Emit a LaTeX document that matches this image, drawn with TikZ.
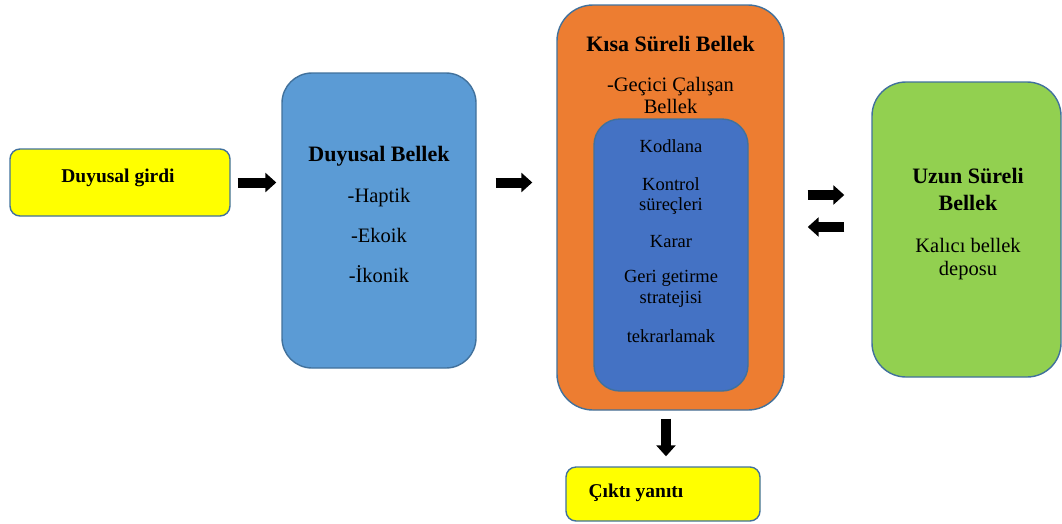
\documentclass[tikz,border=0pt]{standalone}
\usepackage{fontspec}
\setmainfont{Liberation Serif}
\usetikzlibrary{arrows.meta}
\definecolor{edge}{RGB}{65,113,156}
\definecolor{ylw}{RGB}{255,255,0}
\definecolor{sblue}{RGB}{91,155,213}
\definecolor{sorange}{RGB}{237,125,49}
\definecolor{iblue}{RGB}{68,114,196}
\definecolor{lgreen}{RGB}{146,208,80}
\tikzset{
  box/.style={draw=edge, line width=1.4pt, rounded corners=#1, inner sep=0pt},
  box/.default=30pt,
  title/.style={anchor=base, font=\bfseries\fontsize{22}{26}\selectfont},
  body/.style={anchor=base, font=\fontsize{20.5}{24}\selectfont},
  small/.style={anchor=base, font=\fontsize{18.5}{22}\selectfont},
  fat/.style={line width=10pt, -{Triangle[width=19pt,length=11pt]}}
}
\begin{document}
\begin{tikzpicture}[x=1pt,y=-1pt]
    \useasboundingbox (0,0) rectangle (1062,523);
    % boxes
    \node[box=10pt, fill=ylw, minimum width=220pt, minimum height=67pt] (girdi) at (120,182.5) {};
    \node[box, fill=sblue, minimum width=194pt, minimum height=295pt] (duyusal) at (379,220.5) {};
    \node[box=36pt, fill=sorange, minimum width=227pt, minimum height=405pt] (ksb) at (670.5,207.5) {};
    \node[box=26pt, fill=iblue, minimum width=154pt, minimum height=272pt] (ic) at (671,255) {};
    \node[box=34pt, fill=lgreen, minimum width=189pt, minimum height=295pt] (usb) at (966.5,229.5) {};
    \node[box=10pt, fill=ylw, minimum width=194pt, minimum height=54pt] (cikti) at (663,494) {};
    % texts
    \node[title, font=\bfseries\fontsize{19.5}{23}\selectfont] (girdiT) at (118,182) {Duyusal girdi};
    \node[title] (duyusalT) at (379,161) {Duyusal Bellek};
    \foreach \t/\y/\n in {-Haptik/202/hap, -Ekoik/242/eko, -İkonik/282/iko} {
        \node[body] (\n) at (379,\y) {\t};
    }
    \node[title] (ksbT) at (670.5,51) {Kısa Süreli Bellek};
    \node[body] (gec1) at (670.5,91) {-Geçici Çalışan};
    \node[body] (gec2) at (670.5,113) {Bellek};
    \foreach \t/\y/\n in {Kodlana/152/kod, Kontrol/190/kon1, süreçleri/210/kon2, Karar/247/kar,
                          Geri getirme/282/ger1, stratejisi/303/ger2, tekrarlamak/342/tek} {
        \node[small] (\n) at (671,\y) {\t};
    }
    \node[title] (usbT1) at (968,183) {Uzun Süreli};
    \node[title] (usbT2) at (968,210) {Bellek};
    \node[body] (kal1) at (968,252) {Kalıcı bellek};
    \node[body] (kal2) at (968,275) {deposu};
    \node[title, anchor=base west, font=\bfseries\fontsize{19.5}{23}\selectfont] (ciktiT) at (585,497) {Çıktı yanıtı};
    % arrows
    \draw[fat, shorten <=7pt, shorten >=5pt] (girdi.east) -- (girdi.east -| duyusal.west);
    \draw[fat, shorten <=19pt, shorten >=24pt] (duyusal.east |- girdi.east) -- (ksb.west |- girdi.east);
    \coordinate (r1) at ([yshift=34.5pt]usb.west);
    \coordinate (r2) at ([yshift=2.5pt]usb.west);
    \draw[fat, shorten <=23pt, shorten >=27pt] (ksb.east |- r1) -- (r1);
    \draw[fat, shorten <=27pt, shorten >=23pt] (r2) -- (ksb.east |- r2);
    \coordinate (d1) at ([xshift=-4.5pt]ksb.south);
    \draw[fat, shorten <=8pt, shorten >=10pt] (d1) -- (d1 |- cikti.north);
\end{tikzpicture}
\end{document}
